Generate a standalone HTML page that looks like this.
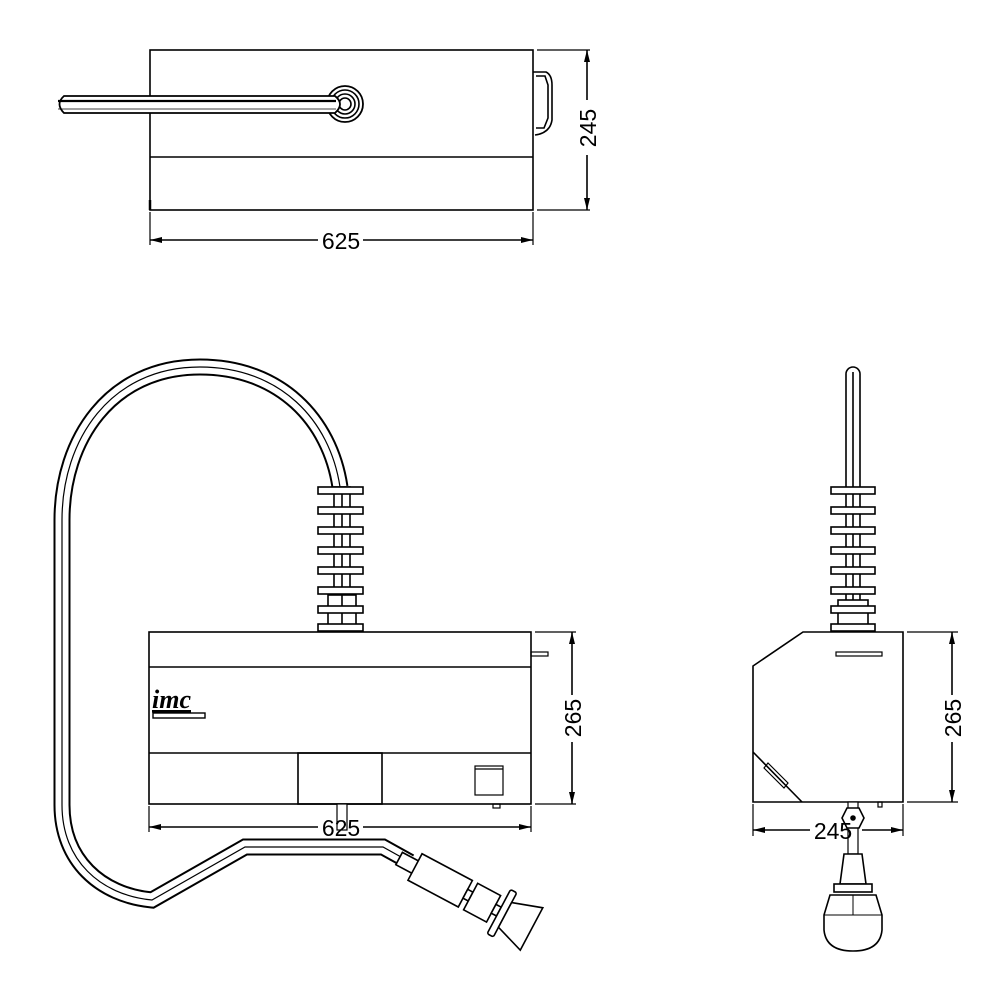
<!DOCTYPE html>
<html><head><style>
html,body{margin:0;padding:0;background:#fff;}
svg{display:block;}
text{font-family:"Liberation Sans",Arial,sans-serif;fill:#000;}
</style></head><body>
<svg width="1000" height="1000" viewBox="0 0 1000 1000" xmlns="http://www.w3.org/2000/svg">
<defs>
<marker id="a" viewBox="0 0 12 6" refX="12" refY="3" markerWidth="12" markerHeight="6" orient="auto-start-reverse" markerUnits="userSpaceOnUse"><path d="M0,0 L12,3 L0,6 z" fill="#000"/></marker>
</defs>
<g fill="none" stroke="#000" stroke-width="1.6">
<!-- TOP VIEW -->
<rect x="150" y="50" width="383" height="160"/>
<line x1="150" y1="157" x2="533" y2="157"/>
<line x1="150" y1="210" x2="150" y2="200" stroke-width="2.5"/>
<path d="M533,72 L546,72 Q552,75 552,85 L552,120 Q550,133 535,135"/>
<path d="M536,76 L545,76 L548,85 L548,118 L544,128 L536,128"/>
<circle cx="345" cy="104" r="18" stroke-width="1.8"/>
<circle cx="345" cy="104" r="14"/>
<circle cx="345" cy="104" r="10"/>
<circle cx="345" cy="104" r="6"/>
<path d="M64,96 L335,96 Q345,104 335,113 L64,113 Q55,104 64,96 Z" fill="#fff" stroke-width="1.8"/>
<line x1="58" y1="101" x2="336" y2="101" stroke-width="2.2"/>
<line x1="58" y1="109" x2="336" y2="109" stroke-width="0.8"/>
<!-- top dims -->
<line x1="537" y1="50" x2="590" y2="50" stroke-width="1.2"/>
<line x1="537" y1="210" x2="590" y2="210" stroke-width="1.2"/>
<line x1="587" y1="50" x2="587" y2="100" marker-start="url(#a)"/>
<line x1="587" y1="155" x2="587" y2="210" marker-end="url(#a)"/>
<line x1="150" y1="212" x2="150" y2="245" stroke-width="1.2"/>
<line x1="533" y1="212" x2="533" y2="245" stroke-width="1.2"/>
<line x1="150" y1="240" x2="318" y2="240" marker-start="url(#a)"/>
<line x1="363" y1="240" x2="533" y2="240" marker-end="url(#a)"/>

<!-- FRONT VIEW HOSE -->
<path d="M62,805 L62,520 C62,440 110,367 200,367 C280,367 330,420 340,487" stroke-width="17" stroke="#000"/>
<path d="M62,805 L62,520 C62,440 110,367 200,367 C280,367 330,420 340,487" stroke-width="13" stroke="#fff"/>
<path d="M62,805 L62,520 C62,440 110,367 200,367 C280,367 330,420 340,487" stroke-width="1.2"/>
<path d="M62,805 C62,860 100,895 152,900 L245,847 L383,847 L410,862" stroke-width="17" stroke="#000"/>
<path d="M62,805 C62,860 100,895 152,900 L245,847 L383,847 L410,862" stroke-width="13" stroke="#fff"/>
<path d="M62,805 C62,860 100,895 152,900 L245,847 L383,847 L410,862" stroke-width="1.2"/>
<!-- fins front -->
<rect x="334" y="487" width="16" height="145" fill="#fff"/>
<rect x="328" y="595" width="28" height="37" fill="#fff"/>
<line x1="342" y1="487" x2="342" y2="632"/>
<g fill="#fff">
<rect x="318" y="487" width="45" height="7"/><rect x="318" y="507" width="45" height="7"/>
<rect x="318" y="527" width="45" height="7"/><rect x="318" y="547" width="45" height="7"/>
<rect x="318" y="567" width="45" height="7"/><rect x="318" y="587" width="45" height="7"/>
<rect x="318" y="606" width="45" height="7"/><rect x="318" y="624" width="45" height="7"/>
</g>
<!-- front box -->
<rect x="149" y="632" width="382" height="172" fill="#fff"/>
<line x1="149" y1="667" x2="531" y2="667"/>
<line x1="149" y1="753" x2="531" y2="753"/>
<rect x="298" y="753" width="84" height="51"/>
<rect x="475" y="766" width="28" height="29" stroke-width="1.2"/>
<line x1="475" y1="769" x2="503" y2="769" stroke-width="1.2"/>
<rect x="531" y="652" width="17" height="4" stroke-width="1.2"/>
<rect x="153" y="713" width="52" height="5" stroke-width="1.4"/>
<rect x="337" y="804" width="10" height="26" fill="#fff" stroke-width="1.2"/>
<rect x="493" y="804" width="7" height="4" stroke-width="1.2"/>
<!-- front dims -->
<line x1="535" y1="632" x2="576" y2="632" stroke-width="1.2"/>
<line x1="535" y1="804" x2="576" y2="804" stroke-width="1.2"/>
<line x1="572" y1="632" x2="572" y2="695" marker-start="url(#a)"/>
<line x1="572" y1="742" x2="572" y2="804" marker-end="url(#a)"/>
<line x1="149" y1="806" x2="149" y2="832" stroke-width="1.2"/>
<line x1="531" y1="806" x2="531" y2="832" stroke-width="1.2"/>
<line x1="149" y1="827" x2="318" y2="827" marker-start="url(#a)"/>
<line x1="363" y1="827" x2="531" y2="827" marker-end="url(#a)"/>

<!-- nozzle -->
<g transform="translate(415,867) rotate(28)" fill="#fff">
<rect x="-18" y="-7" width="20" height="14"/>
<rect x="0" y="-15" width="57" height="30"/>
<rect x="57" y="-5" width="6" height="10"/>
<rect x="63" y="-15" width="26" height="30"/>
<rect x="89" y="-5" width="6" height="10"/>
<rect x="95" y="-25" width="7" height="50" rx="2"/>
<path d="M102,-14 L132,-24 L132,24 L102,14 Z"/>
</g>

<!-- SIDE VIEW -->
<rect x="846" y="367" width="14" height="265" rx="7" fill="#fff"/>
<line x1="853" y1="372" x2="853" y2="632"/>
<rect x="838" y="600" width="30" height="32" fill="#fff"/>
<g fill="#fff">
<rect x="831" y="487" width="44" height="7"/><rect x="831" y="507" width="44" height="7"/>
<rect x="831" y="527" width="44" height="7"/><rect x="831" y="547" width="44" height="7"/>
<rect x="831" y="567" width="44" height="7"/><rect x="831" y="587" width="44" height="7"/>
<rect x="831" y="606" width="44" height="7"/><rect x="831" y="624" width="44" height="7"/>
</g>
<path d="M803,632 L903,632 L903,802 L753,802 L753,666 Z" fill="#fff"/>
<line x1="753" y1="752" x2="802" y2="802"/>
<rect x="836" y="652" width="46" height="4" stroke-width="1.2"/>
<path d="M764,768 L768,763 L788,783 L784,788 Z" stroke-width="1.2"/>
<rect x="878" y="802" width="4" height="5" stroke-width="1.2"/>
<rect x="848" y="802" width="10" height="52" stroke-width="1.2" fill="#fff"/>
<polygon points="847,808 859,808 864,818 859,828 847,828 842,818" fill="#fff"/>
<circle cx="853" cy="818" r="2" fill="#000"/>
<path d="M844,854 L862,854 L866,884 L840,884 Z" fill="#fff"/>
<rect x="834" y="884" width="38" height="8" fill="#fff"/>
<path d="M830,895 L876,895 L882,915 L882,930 Q880,951 853,951 Q826,951 824,930 L824,915 Z" fill="#fff"/>
<line x1="824" y1="915" x2="882" y2="915" stroke-width="1"/>
<line x1="853" y1="895" x2="853" y2="915" stroke-width="1"/>
<!-- side dims -->
<line x1="907" y1="632" x2="958" y2="632" stroke-width="1.2"/>
<line x1="907" y1="802" x2="958" y2="802" stroke-width="1.2"/>
<line x1="952" y1="632" x2="952" y2="695" marker-start="url(#a)"/>
<line x1="952" y1="742" x2="952" y2="802" marker-end="url(#a)"/>
<line x1="753" y1="804" x2="753" y2="836" stroke-width="1.2"/>
<line x1="903" y1="804" x2="903" y2="836" stroke-width="1.2"/>
<line x1="753" y1="830" x2="810" y2="830" marker-start="url(#a)"/>
<line x1="862" y1="830" x2="903" y2="830" marker-end="url(#a)"/>
</g>
<text x="341" y="249" font-size="23" text-anchor="middle">625</text>
<text x="0" y="0" font-size="23" text-anchor="middle" transform="translate(596,128) rotate(-90)">245</text>
<text x="341" y="836" font-size="23" text-anchor="middle">625</text>
<text x="0" y="0" font-size="23" text-anchor="middle" transform="translate(581,718) rotate(-90)">265</text>
<text x="0" y="0" font-size="23" text-anchor="middle" transform="translate(961,718) rotate(-90)">265</text>
<text x="833" y="839" font-size="23" text-anchor="middle">245</text>
<text x="152" y="708" font-size="26" font-weight="bold" style="font-family:'Liberation Serif',serif;text-decoration:underline" font-style="italic">imc</text>
</svg>
</body></html>
